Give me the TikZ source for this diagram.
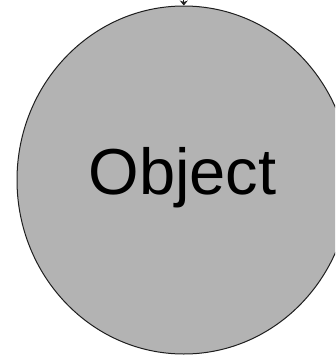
\documentclass[tikz,border=0pt]{standalone}
\usepackage{fontspec}
\setmainfont{Liberation Sans}
\usetikzlibrary{shapes.geometric,arrows.meta}
\definecolor{objfill}{RGB}{179,179,179}
\definecolor{objline}{RGB}{30,30,30}
\tikzset{
  objnode/.style={ellipse, draw=objline, line width=1pt, fill=objfill, inner sep=0pt,
    minimum width=333.6pt, minimum height=348pt},
  objlabel/.style={font=\fontsize{65}{72}\selectfont, inner sep=0pt},
  inarrow/.style={draw=objline, line width=0.8pt, -{Stealth[length=5pt,width=8pt]}}
}
\begin{document}
\begin{tikzpicture}[x=1pt,y=1pt]
\useasboundingbox (0,0) rectangle (335,-356);
\clip (0,0) rectangle (335,-356);
\node[objnode] (obj) at (183.8,-180) {};
\node[objlabel, anchor=base] (lbl) at (182.5,-194) {Object};
\coordinate (src) at (183.8,1);
\draw[inarrow] (src) -- (obj);
\end{tikzpicture}
\end{document}
